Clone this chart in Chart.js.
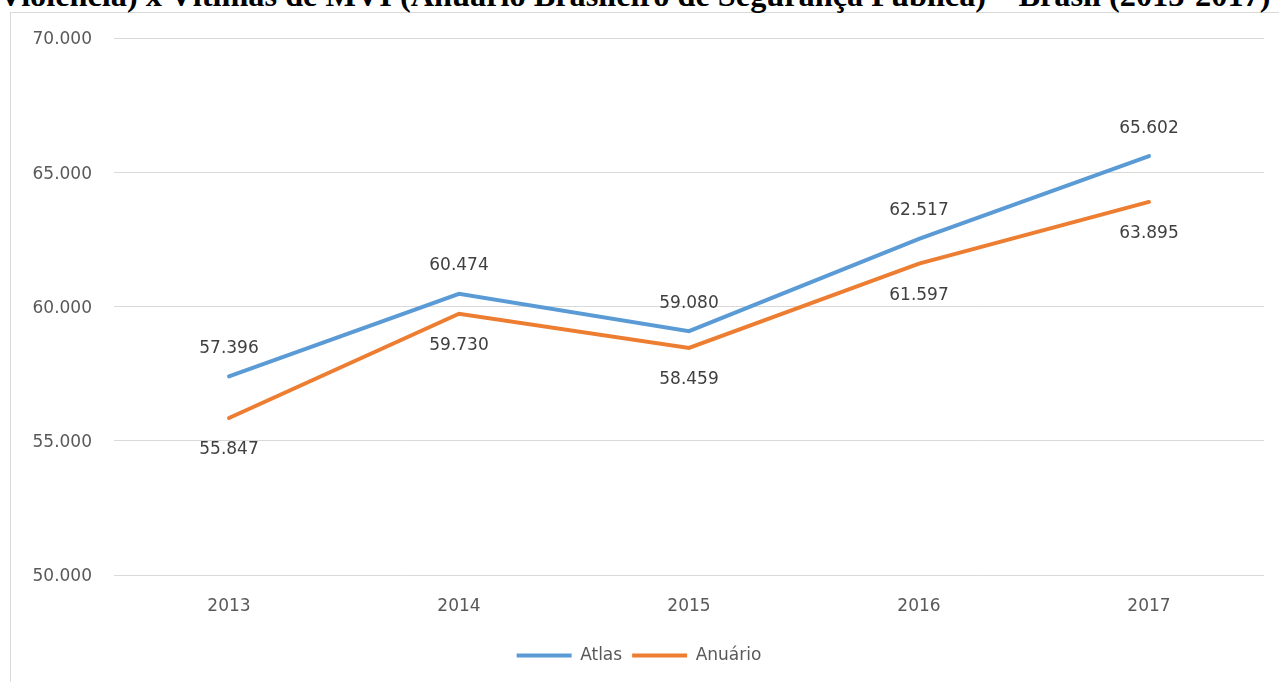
<!DOCTYPE html>
<html>
<head>
<meta charset="utf-8">
<script src="https://cdn.jsdelivr.net/npm/chart.js@4"></script>
<style>
  html, body { margin: 0; padding: 0; background: #fff; overflow: hidden; }
  #wrap { position: relative; width: 1279px; height: 682px; }
  #frame { position: absolute; left: 10px; top: 12px; width: 1280px; height: 700px; border: 1px solid #d9d9d9; box-sizing: border-box; }
  #title { position: absolute; left: -1px; top: -21px; white-space: nowrap; font: bold 32.3px "Liberation Serif", "Times New Roman", serif; line-height: 1; color: #000; }
  canvas { position: absolute; left: 0; top: 0; }
</style>
</head>
<body>
<div id="wrap">
  <div id="frame"></div>
  <div id="title">Violência) x Vítimas de MVI (Anuário Brasileiro de Segurança Pública) – Brasil (2013-2017)</div>
  <canvas id="c" width="1279" height="682"></canvas>
</div>
<script>
// ---- data
const years = ["2013", "2014", "2015", "2016", "2017"];
const atlas = [57396, 60474, 59080, 62517, 65602];
const anuario = [55847, 59730, 58459, 61597, 63895];
const yTicks = [50000, 55000, 60000, 65000, 70000];

const FONT = "'DejaVu Sans', sans-serif";
const fmt = v => String(v).replace(/\B(?=(\d{3})+(?!\d))/g, ".");

// data labels: Atlas above the point, Anuário below
const labelsPlugin = {
  id: "vlabels",
  afterDatasetsDraw(chart) {
    const ctx = chart.ctx;
    ctx.save();
    ctx.font = "17px " + FONT;
    ctx.fillStyle = "#404040";
    ctx.textAlign = "center";
    ctx.textBaseline = "middle";
    chart.data.datasets.forEach((ds, di) => {
      const meta = chart.getDatasetMeta(di);
      meta.data.forEach((pt, i) => {
        const dy = di === 0 ? -28 : 32;
        ctx.fillText(fmt(ds.data[i]), pt.x, pt.y + dy);
      });
    });
    ctx.restore();
  },
};

new Chart(document.getElementById("c"), {
  type: "line",
  data: {
    labels: years,
    datasets: [
      { label: "Atlas", data: atlas, borderColor: "#5b9bd5", backgroundColor: "#5b9bd5", borderWidth: 4, pointRadius: 0, tension: 0, borderCapStyle: "round" },
      { label: "Anuário", data: anuario, borderColor: "#ed7d31", backgroundColor: "#ed7d31", borderWidth: 4, pointRadius: 0, tension: 0, borderCapStyle: "round" },
    ],
  },
  options: {
    responsive: false, animation: false,
    layout: { padding: { left: 14, right: 15, top: 38, bottom: 8 } },
    plugins: {
      legend: {
        position: "bottom",
        labels: { usePointStyle: true, pointStyle: "line", pointStyleWidth: 55, boxHeight: 17, padding: 10, color: "#595959", font: { family: FONT, size: 17 } },
      },
      tooltip: { enabled: false },
    },
    scales: {
      x: {
        offset: true,
        grid: { display: false },
        border: { display: false },
        ticks: { color: "#595959", font: { family: FONT, size: 17 }, padding: 13 },
        afterFit: s => { s.height = 62; },
      },
      y: {
        min: 50000, max: 70000,
        afterBuildTicks: s => { s.ticks = yTicks.map(v => ({ value: v })); },
        grid: { color: "#d9d9d9", lineWidth: 1, drawTicks: false },
        border: { display: false },
        ticks: { color: "#595959", font: { family: FONT, size: 17 }, padding: 22, labelOffset: 2, callback: v => fmt(v) },
        afterFit: s => { s.width = 100; },
      },
    },
  },
  plugins: [labelsPlugin],
});
</script>
</body>
</html>
